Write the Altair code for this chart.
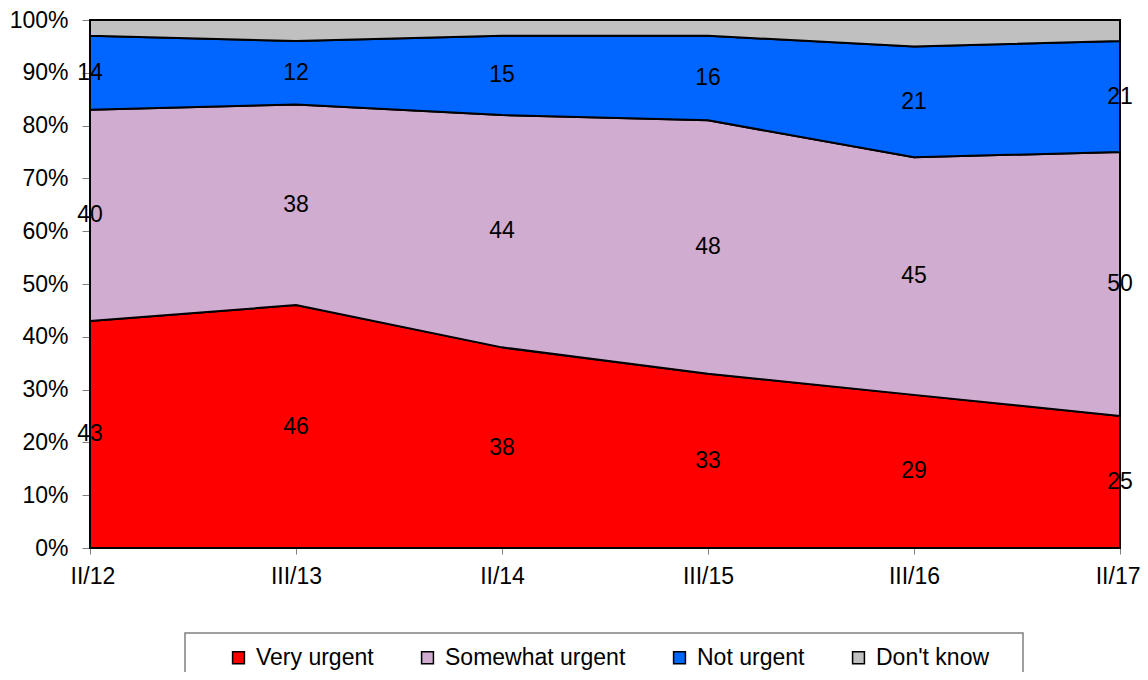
import altair as alt
import pandas as pd

periods = ["II/12", "III/13", "II/14", "III/15", "III/16", "II/17"]
series = ["Very urgent", "Somewhat urgent", "Not urgent", "Don't know"]
colors = ["#FF0000", "#D0ACD0", "#0066FF", "#C0C0C0"]

very_urgent = [43, 46, 38, 33, 29, 25]
somewhat_urgent = [40, 38, 44, 48, 45, 50]
not_urgent = [14, 12, 15, 16, 21, 21]
dont_know = [3, 4, 3, 3, 5, 4]

values = [very_urgent, somewhat_urgent, not_urgent, dont_know]
rows = []
for si, (name, vals) in enumerate(zip(series, values)):
    for pi, (p, v) in enumerate(zip(periods, vals)):
        rows.append({"period": p, "idx": pi, "series": name, "order": si,
                     "value": v / 100.0, "label": str(v)})
df = pd.DataFrame(rows)

FONT = "Liberation Sans"
FS = 23

label_expr = "[" + ",".join("'" + p + "'" for p in periods) + "][datum.value]"

base = alt.Chart(df).transform_stack(
    stack="value", groupby=["idx"], as_=["y0", "y1"],
    sort=[alt.SortField("order", order="ascending")]
)

x_enc = alt.X("idx:Q", scale=alt.Scale(domain=[0, len(periods) - 1], nice=False, zero=False),
              axis=alt.Axis(title=None, values=list(range(len(periods))), labelExpr=label_expr,
                            labelAngle=0, tickSize=6, labelPadding=11,
                            domainColor="#000000", tickColor="#808080",
                            labelFont=FONT, labelFontSize=FS, labelColor="#000000",
                            grid=False, labelFlush=True, labelFlushOffset=20,
                            labelOverlap=False))

area = base.mark_area(stroke="#000000", strokeWidth=2, opacity=1, interpolate="linear").encode(
    x=x_enc,
    y=alt.Y("y0:Q", scale=alt.Scale(domain=[0, 1], nice=False),
            axis=alt.Axis(title=None, format=".0%", values=[i / 10 for i in range(11)],
                          tickSize=8, labelPadding=14, domainColor="#808080",
                          tickColor="#808080", labelFont=FONT, labelFontSize=FS,
                          labelColor="#000000", grid=False)),
    y2="y1:Q",
    color=alt.Color("series:N", scale=alt.Scale(domain=series, range=colors),
                    legend=alt.Legend(title=None, orient="none", legendX=137, legendY=626,
                                      direction="horizontal", columns=4,
                                      symbolType="square", symbolSize=140,
                                      symbolStrokeColor="#000000", symbolStrokeWidth=1.5,
                                      symbolOpacity=1, labelFont=FONT, labelFontSize=FS,
                                      labelColor="#000000", labelOffset=6,
                                      columnPadding=42, padding=0, labelLimit=400)),
)

labels = base.transform_calculate(
    mid="(datum.y0 + datum.y1) / 2"
).transform_filter(
    "datum.series != \"Don't know\""
).mark_text(font=FONT, fontSize=FS, color="#000000", align="center", baseline="middle").encode(
    x=alt.X("idx:Q"),
    y=alt.Y("mid:Q"),
    text="label:N",
)

box = alt.Chart(pd.DataFrame({"a": [0]})).mark_rect(
    fill="#FFFFFF", stroke="#808080", strokeWidth=1.5
).encode(
    x=alt.value(95), x2=alt.value(933), y=alt.value(613), y2=alt.value(720)
)

chart = alt.layer(box, area, labels).properties(
    width=1030, height=528,
    autosize=alt.AutoSizeParams(type="none"),
    padding={"left": 82, "top": 12, "right": 20, "bottom": 124},
).configure_view(strokeWidth=0)

chart.save("out.html", embed_options={"renderer": "svg", "actions": False})
